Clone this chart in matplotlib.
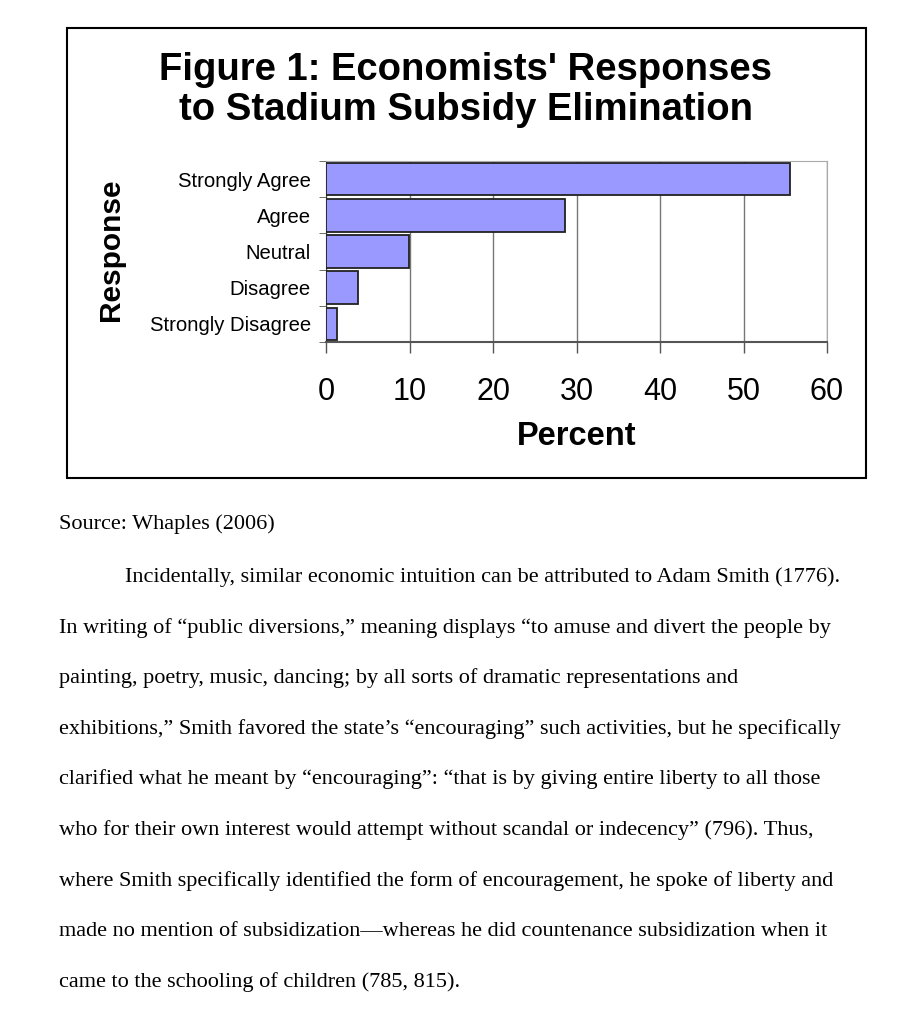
import matplotlib
matplotlib.use("Agg")
import matplotlib.pyplot as plt
import numpy as np
from matplotlib.patches import Rectangle

# data
responses = ['Strongly Agree', 'Agree', 'Neutral', 'Disagree', 'Strongly Disagree']
percent = [55.6, 28.6, 9.9, 3.8, 1.3]
x_ticks = [0, 10, 20, 30, 40, 50, 60]

source_text = "Source: Whaples (2006)"
body_lines = [
    "Incidentally, similar economic intuition can be attributed to Adam Smith (1776).",
    "In writing of \u201cpublic diversions,\u201d meaning displays \u201cto amuse and divert the people by",
    "painting, poetry, music, dancing; by all sorts of dramatic representations and",
    "exhibitions,\u201d Smith favored the state\u2019s \u201cencouraging\u201d such activities, but he specifically",
    "clarified what he meant by \u201cencouraging\u201d: \u201cthat is by giving entire liberty to all those",
    "who for their own interest would attempt without scandal or indecency\u201d (796). Thus,",
    "where Smith specifically identified the form of encouragement, he spoke of liberty and",
    "made no mention of subsidization\u2014whereas he did countenance subsidization when it",
    "came to the schooling of children (785, 815).",
]

W, H = 924, 1024
fig = plt.figure(figsize=(W / 100, H / 100), dpi=100)
plt.rcParams['font.family'] = ['Liberation Sans', 'DejaVu Sans']

# frame around the chart
fig.patches.append(Rectangle((67 / W, 1 - 478 / H), (866 - 67) / W, (478 - 28) / H,
                             transform=fig.transFigure, fill=False,
                             edgecolor='black', linewidth=1.5))

fig.text(466 / W, 1 - 90 / H, "Figure 1: Economists' Responses\nto Stadium Subsidy Elimination",
         ha='center', va='center', fontsize=27.5, fontweight='bold', linespacing=1.15)

ax = fig.add_axes([326 / W, 1 - 342 / H, (827 - 326) / W, (342 - 161) / H])
ind = np.arange(len(responses))
ax.barh(ind, percent, height=0.9, color='#9999ff', edgecolor='#222222', linewidth=1.3, zorder=3)
ax.set_ylim(len(responses) - 0.5, -0.5)
ax.set_xlim(0, 60)

ax.set_xticks(x_ticks)
ax.set_xticklabels([str(t) for t in x_ticks], fontsize=22)
ax.tick_params(axis='x', direction='out', length=8, width=1, color='#555555', pad=17)
ax.set_yticks(ind)
ax.set_yticklabels(responses, fontsize=14.6)
ax.tick_params(axis='y', length=0, pad=11)
ax.set_yticks(np.arange(-0.5, len(responses), 1), minor=True)
ax.tick_params(axis='y', which='minor', direction='out', length=5, color='#555555')

ax.grid(axis='x', color='#777777', linewidth=1, zorder=0)
for side in ['top', 'right']:
    ax.spines[side].set_color('#aaaaaa')
ax.spines['left'].set_color('#444444')
ax.spines['bottom'].set_color('#555555')
ax.spines['bottom'].set_linewidth(1.5)

ax.set_xlabel('Percent', fontsize=23.5, fontweight='bold', labelpad=10)
fig.text(111 / W, 1 - 250 / H, 'Response', rotation=90, ha='center', va='center',
         fontsize=21.5, fontweight='bold')

# document text below the chart
serif = ['Liberation Serif', 'DejaVu Serif']
fig.text(59 / W, 1 - 524 / H, source_text, ha='left', va='center', fontsize=16, family=serif)
y0 = 577
for i, line in enumerate(body_lines):
    x = 125 if i == 0 else 59
    fig.text(x / W, 1 - (y0 + i * 50.6) / H, line, ha='left', va='center',
             fontsize=16, family=serif)

fig.savefig('out.png', dpi=100, facecolor='white')
